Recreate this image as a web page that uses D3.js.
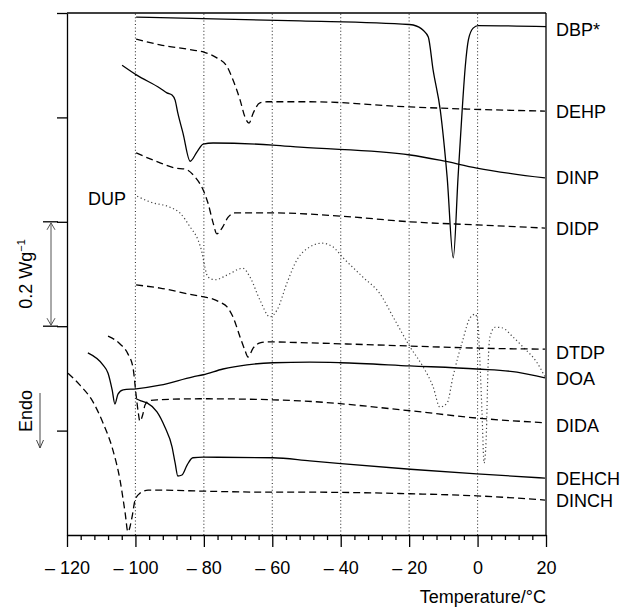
<!DOCTYPE html>
<html>
<head>
<meta charset="utf-8">
<script src="https://cdn.jsdelivr.net/npm/d3@7"></script>
<style>
body { margin: 0; background: #fff; }
text { font-family: "Liberation Sans", Arial, sans-serif; fill: #000; }
</style>
</head>
<body>
<svg id="chart" width="624" height="609"></svg>
<script>
// temperature (°C) vs heat flow (W/g, arbitrary offset)
var DBP = [[-99.8,0.992],[-51.9,0.985],[-20,0.978],[-18.8,0.977],[-15.9,0.967],[-14.4,0.954],[-13.0,0.891],
  [-10.9,0.814],[-8.9,0.686],[-7.1,0.531],[-5.7,0.686],[-4.5,0.814],[-3.6,0.897],[-2.7,0.948],[-1.3,0.971],
  [0.2,0.976],[20,0.974]];
var DEHP = [[-99.8,0.950],[-92.8,0.939],[-83.2,0.929],[-80.0,0.925],[-76.2,0.914],[-73.2,0.897],[-71.5,0.872],
  [-69.4,0.833],[-68.0,0.801],[-66.8,0.789],[-65.6,0.808],[-63.6,0.828],[-61.5,0.830],[-49.0,0.830],
  [-19.7,0.820],[-3.1,0.816],[19.7,0.812]];
var DINP = [[-103.9,0.900],[-99.6,0.881],[-92.8,0.856],[-90.8,0.847],[-89.3,0.843],[-88.4,0.833],[-87.6,0.808],
  [-86.1,0.770],[-84.0,0.716],[-82.0,0.734],[-80.2,0.749],[-77.3,0.751],[-59.8,0.747],[-51.9,0.743],
  [-19.7,0.728],[-11.0,0.718],[-0.2,0.703],[19.7,0.684]];
var DIDP = [[-99.8,0.732],[-92.8,0.713],[-88.4,0.703],[-85.5,0.701],[-82.6,0.686],[-80.2,0.661],[-78.8,0.636],
  [-77.3,0.598],[-76.2,0.577],[-74.7,0.588],[-72.9,0.609],[-70.9,0.617],[-59.8,0.617],[-40.2,0.611],
  [-19.7,0.600],[-0.2,0.594],[19.7,0.588]];
var DUP = [[-99.5,0.649],[-95.7,0.638],[-89.9,0.628],[-87.0,0.617],[-84.0,0.590],[-81.7,0.565],[-80.5,0.540],
  [-79.7,0.513],[-78.8,0.494],[-76.7,0.489],[-73.2,0.498],[-68.6,0.511],[-66.5,0.494],[-63.6,0.450],
  [-60.7,0.418],[-58.6,0.431],[-55.7,0.483],[-52.8,0.527],[-49.0,0.552],[-45.5,0.559],[-42.3,0.552],
  [-39.3,0.531],[-33.5,0.494],[-28.5,0.462],[-24.7,0.418],[-19.7,0.360],[-15.9,0.322],[-13.0,0.284],
  [-11.0,0.245],[-8.9,0.253],[-7.2,0.303],[-4.3,0.374],[-2.2,0.416],[-0.7,0.423],[0.1,0.406],[0.7,0.330],
  [1.3,0.234],[1.9,0.138],[2.5,0.182],[3.1,0.330],[3.6,0.379],[5.1,0.398],[7.1,0.397],[10.4,0.379],
  [13.3,0.360],[17.4,0.330],[19.7,0.303]];
var DTDP = [[-99.8,0.479],[-92.8,0.473],[-83.2,0.460],[-80.0,0.456],[-77.3,0.452],[-75.3,0.446],[-73.2,0.437],
  [-71.5,0.418],[-69.4,0.379],[-68.0,0.354],[-67.1,0.341],[-65.6,0.358],[-63.6,0.368],[-61.5,0.370],
  [-49.0,0.368],[-19.7,0.362],[-0.2,0.358],[19.7,0.356]];
var DOA = [[-113.9,0.349],[-109.5,0.326],[-108.0,0.310],[-106.8,0.278],[-106.0,0.251],[-105.1,0.270],
  [-103.6,0.278],[-99.8,0.280],[-92.8,0.287],[-83.2,0.303],[-80.2,0.307],[-74.4,0.318],[-67.4,0.326],
  [-59.8,0.330],[-49.0,0.331],[-40.2,0.330],[-19.7,0.324],[-0.2,0.318],[11.5,0.312],[19.7,0.301]];
var DIDA = [[-108.0,0.381],[-104.5,0.366],[-102.2,0.347],[-100.7,0.320],[-99.8,0.268],[-99.2,0.236],
  [-98.7,0.218],[-97.8,0.232],[-97.2,0.249],[-96.0,0.257],[-93.7,0.259],[-80.2,0.261],[-59.8,0.259],
  [-51.9,0.257],[-19.7,0.238],[-0.2,0.224],[19.7,0.215]];
var DEHCH = [[-99.8,0.261],[-98.4,0.257],[-96.6,0.253],[-93.7,0.236],[-91.4,0.207],[-89.3,0.169],[-88.4,0.138],
  [-87.6,0.113],[-86.4,0.115],[-84.9,0.134],[-83.2,0.148],[-80.2,0.149],[-59.8,0.148],[-49.0,0.142],
  [-19.7,0.126],[-0.2,0.117],[19.7,0.109]];
var DINCH = [[-119.7,0.310],[-116.2,0.287],[-112.4,0.255],[-109.5,0.215],[-106.6,0.163],[-104.5,0.105],
  [-103.0,0.042],[-102.2,0.006],[-101.0,0.034],[-100.1,0.067],[-98.7,0.080],[-96.3,0.086],[-92.8,0.086],
  [-80.2,0.084],[-59.8,0.082],[-49.0,0.082],[-19.7,0.079],[-0.2,0.075],[19.7,0.067]];

var xTicks = [-120, -100, -80, -60, -40, -20, 0, 20];
var gridTemps = [-100, -80, -60, -40, -20, 0];
var yTicks = [0.2, 0.4, 0.6, 0.8, 1.0];
var scaleBar = [0.4, 0.6];   // 0.2 W/g

var series = [
  {name: "DBP*",  data: DBP,   dash: null,  nudge: 3},
  {name: "DEHP",  data: DEHP,  dash: "7,4", nudge: 0},
  {name: "DINP",  data: DINP,  dash: null,  nudge: 0},
  {name: "DIDP",  data: DIDP,  dash: "7,4", nudge: 0},
  {name: "DUP",   data: DUP,   dash: "dot", nudge: 0},
  {name: "DTDP",  data: DTDP,  dash: "7,4", nudge: 3},
  {name: "DOA",   data: DOA,   dash: null,  nudge: 1},
  {name: "DIDA",  data: DIDA,  dash: "7,4", nudge: 3},
  {name: "DEHCH", data: DEHCH, dash: null,  nudge: 0},
  {name: "DINCH", data: DINCH, dash: "7,4", nudge: 0}
];

var svg = d3.select("#chart");
var x = d3.scaleLinear().domain([-120, 20]).range([67, 546]);
var y = d3.scaleLinear().domain([0, 1]).range([535, 13]);
var fs = "18px";

// dotted vertical grid
svg.append("g").selectAll("line").data(gridTemps).enter().append("line")
  .attr("x1", function(d) { return x(d); }).attr("x2", function(d) { return x(d); })
  .attr("y1", y(0)).attr("y2", y(1))
  .attr("stroke", "#333").attr("stroke-width", 1.1).attr("stroke-dasharray", "1,2.4");

// frame
svg.append("line").attr("x1", x(-120)).attr("x2", x(20)).attr("y1", y(1)).attr("y2", y(1))
  .attr("stroke", "#000").attr("stroke-width", 1.3);
svg.append("line").attr("x1", x(20)).attr("x2", x(20)).attr("y1", y(1)).attr("y2", y(0))
  .attr("stroke", "#000").attr("stroke-width", 1.3);

var fmt = function(d) { return d < 0 ? "\u2013 " + Math.abs(d) : String(d); };

var gx = svg.append("g").attr("transform", "translate(0," + y(0) + ")")
  .call(d3.axisBottom(x).tickValues(xTicks).tickSize(12).tickSizeOuter(0).tickPadding(14).tickFormat(fmt));
var gxm = svg.append("g").attr("transform", "translate(0," + y(0) + ")")
  .call(d3.axisBottom(x).tickValues(d3.range(-120, 21, 4).filter(function(d) { return d % 20 !== 0; }))
    .tickSize(5).tickSizeOuter(0).tickFormat(""));
gxm.select(".domain").remove();

var gy = svg.append("g").attr("transform", "translate(" + x(-120) + ",0)")
  .call(d3.axisLeft(y).tickValues(yTicks).tickSize(10).tickSizeOuter(0).tickFormat(""));

svg.selectAll(".domain, .tick line").attr("stroke", "#000").attr("stroke-width", 1.3);
gx.selectAll(".tick text").attr("font-size", fs).attr("font-family", "Liberation Sans, Arial, sans-serif");

// scale bar
svg.append("g").selectAll("line").data(scaleBar).enter().append("line")
  .attr("x1", 43).attr("x2", 58).attr("y1", function(d) { return y(d); }).attr("y2", function(d) { return y(d); })
  .attr("stroke", "#000").attr("stroke-width", 1.3);
svg.append("line").attr("x1", 51).attr("x2", 51).attr("y1", y(0.6) + 1).attr("y2", y(0.4) - 1)
  .attr("stroke", "#555").attr("stroke-width", 1);
svg.append("path").attr("d", "M47," + (y(0.6) + 8) + "L51," + (y(0.6) + 1) + "L55," + (y(0.6) + 8))
  .attr("fill", "none").attr("stroke", "#555").attr("stroke-width", 1);
svg.append("path").attr("d", "M47," + (y(0.4) - 8) + "L51," + (y(0.4) - 1) + "L55," + (y(0.4) - 8))
  .attr("fill", "none").attr("stroke", "#555").attr("stroke-width", 1);

svg.append("text").attr("transform", "translate(32," + ((y(0.6) + y(0.4)) / 2) + ") rotate(-90)")
  .attr("text-anchor", "middle").attr("font-size", fs)
  .html('0.2 Wg<tspan font-size="11px" dy="-7">\u22121</tspan>');

// endo arrow
svg.append("line").attr("x1", 40).attr("x2", 40).attr("y1", 393).attr("y2", 448)
  .attr("stroke", "#444").attr("stroke-width", 1);
svg.append("path").attr("d", "M36.5,440L40,448L43.5,440")
  .attr("fill", "none").attr("stroke", "#444").attr("stroke-width", 1);
svg.append("text").attr("transform", "translate(32,411) rotate(-90)")
  .attr("text-anchor", "middle").attr("font-size", fs).text("Endo");

// traces
var line = d3.line()
  .curve(d3.curveMonotoneX)
  .x(function(d) { return x(d[0]); })
  .y(function(d) { return y(d[1]); });

svg.append("g").selectAll("path").data(series).enter().append("path")
  .attr("d", function(s) { return line(s.data); })
  .attr("fill", "none")
  .attr("stroke", function(s) { return s.dash === "dot" ? "#444" : "#000"; })
  .attr("stroke-width", function(s) { return s.dash === "dot" ? 1.2 : 1.3; })
  .attr("stroke-dasharray", function(s) { return s.dash === "dot" ? "1.2,2.6" : s.dash; });

// labels
svg.append("g").selectAll("text").data(series.filter(function(s) { return s.name !== "DUP"; })).enter()
  .append("text")
  .attr("x", 556)
  .attr("y", function(s) { return y(s.data[s.data.length - 1][1]) + s.nudge + 6.5; })
  .attr("font-size", fs)
  .text(function(s) { return s.name; });
svg.append("text").attr("x", 88).attr("y", 205).attr("font-size", fs).text("DUP");

svg.append("text").attr("x", 546).attr("y", 603).attr("text-anchor", "end")
  .attr("font-size", fs).text("Temperature/\u00b0C");
</script>
</body>
</html>
